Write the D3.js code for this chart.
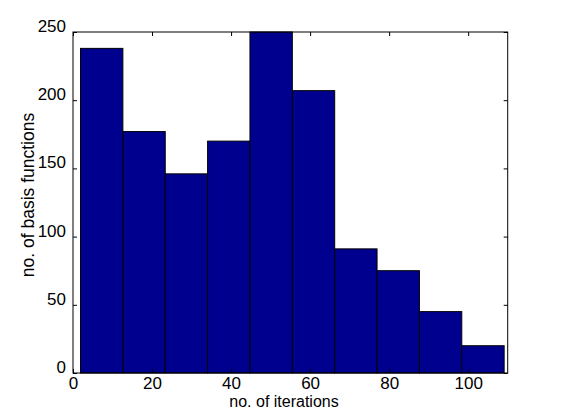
<!DOCTYPE html>
<html>
<head>
<meta charset="utf-8">
<script src="https://cdn.jsdelivr.net/npm/d3@7"></script>
<style>
  html, body { margin: 0; padding: 0; background: #fff; }
  text { font-family: "Liberation Sans", Arial, Helvetica, sans-serif; fill: #000; }
</style>
</head>
<body>
<div id="chart"></div>
<script>
// histogram counts per bin
const binCounts = [238, 177, 146, 170, 250, 207, 91, 75, 45, 20];
const binStart = 1.9;      // left edge of first bin (iterations)
const binWidth = 10.72;    // width of each bin (iterations)
const xTicks = [0, 20, 40, 60, 80, 100];
const yTicks = [0, 50, 100, 150, 200, 250];
const xLabel = 'no. of iterations';
const yLabel = 'no. of basis functions';

(function () {
  const w = 561, h = 419;
  const margin = { top: 32, left: 73, right: 53.3, bottom: 46 };
  const width = w - margin.left - margin.right;
  const height = h - margin.top - margin.bottom;

  const bins = binCounts.map(function (c, i) {
    return { x0: binStart + i * binWidth, x1: binStart + (i + 1) * binWidth, count: c };
  });

  const x = d3.scaleLinear().domain([0, 110]).range([0, width]);
  const y = d3.scaleLinear().domain([0, 250]).range([height, 0]);

  const svg = d3.select('#chart').append('svg')
    .attr('width', w)
    .attr('height', h);

  const chart = svg.append('g')
    .attr('transform', 'translate(' + margin.left + ',' + margin.top + ')');

  // bars
  chart.selectAll('rect.bar')
    .data(bins)
    .enter()
    .append('rect')
    .attr('class', 'bar')
    .attr('x', function (d) { return x(d.x0); })
    .attr('width', function (d) { return x(d.x1) - x(d.x0); })
    .attr('y', function (d) { return y(d.count); })
    .attr('height', function (d) { return height - y(d.count); })
    .attr('fill', '#00008f')
    .attr('stroke', '#000')
    .attr('stroke-width', 1);

  // axes, ticks pointing inward, box on all sides
  function styleAxis(g) {
    g.select('.domain').remove();
    g.selectAll('line').attr('stroke', '#000');
    g.selectAll('text').style('font-size', '17px');
  }

  chart.append('g')
    .attr('transform', 'translate(0,' + height + ')')
    .call(d3.axisBottom(x).tickValues(xTicks).tickSize(-4).tickPadding(4))
    .call(styleAxis)
    .selectAll('text').attr('dy', '0.71em');

  chart.append('g')
    .call(d3.axisTop(x).tickValues(xTicks).tickSize(-4).tickFormat(''))
    .call(styleAxis);

  chart.append('g')
    .call(d3.axisLeft(y).tickValues(yTicks).tickSize(-4).tickPadding(7))
    .call(styleAxis)
    .selectAll('text').attr('dy', '-0.03em');

  chart.append('g')
    .attr('transform', 'translate(' + width + ',0)')
    .call(d3.axisRight(y).tickValues(yTicks).tickSize(-4).tickFormat(''))
    .call(styleAxis);

  chart.append('rect')
    .attr('x', 0)
    .attr('y', 0)
    .attr('width', width)
    .attr('height', height)
    .attr('fill', 'none')
    .attr('stroke', '#000')
    .attr('stroke-width', 1);

  // axis labels
  svg.append('text')
    .attr('x', 284)
    .attr('y', 406.5)
    .style('text-anchor', 'middle')
    .style('font-size', '16px')
    .text(xLabel);

  svg.append('text')
    .attr('transform', 'translate(34,195) rotate(-90)')
    .style('text-anchor', 'middle')
    .style('font-size', '17.5px')
    .text(yLabel);
})();
</script>
</body>
</html>
